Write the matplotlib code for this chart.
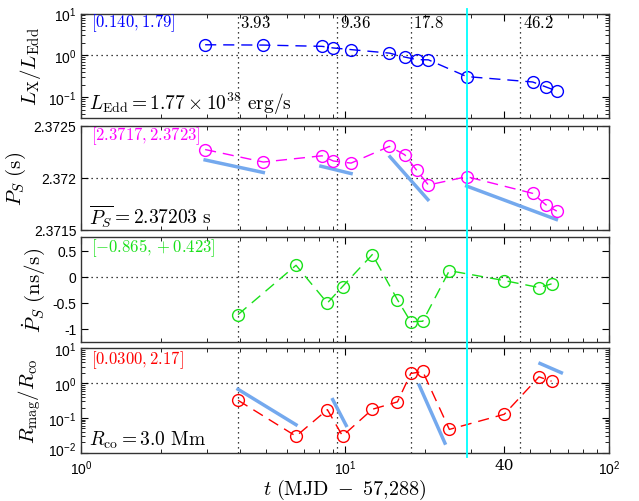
import numpy as np
import matplotlib
matplotlib.use("Agg")
import matplotlib.pyplot as plt
import matplotlib.transforms as mtransforms
from matplotlib.ticker import FixedLocator, NullFormatter, LogLocator

plt.rcParams["mathtext.fontset"] = "cm"
plt.rcParams["font.family"] = ["Liberation Sans", "DejaVu Sans"]
plt.rcParams["axes.unicode_minus"] = False

# temps des mesures de periode / luminosite
t_L = [2.95, 4.90, 8.18, 9.03, 10.54, 14.72, 16.83, 18.69, 20.69, 28.91, 51.4, 57.7, 63.4]
L_ratio = [1.79, 1.76, 1.64, 1.50, 1.37, 1.13, 0.91, 0.79, 0.78, 0.31, 0.23, 0.175, 0.140]
P_s = [2.37227, 2.37215, 2.37221, 2.37216, 2.37214, 2.37230, 2.37222,
       2.37207, 2.37193, 2.37201, 2.37185, 2.37174, 2.37168]

# temps des derivees
t_d = [3.93, 6.52, 8.57, 9.78, 12.69, 15.79, 17.74, 19.70, 24.84, 40.12, 54.3, 60.6]
Pdot = [-0.728, 0.217, -0.506, -0.19, 0.423, -0.443, -0.865, -0.855, 0.114, -0.076, -0.209, -0.139]
R_ratio = [0.323, 0.0300, 0.174, 0.0305, 0.178, 0.29, 1.90, 2.17, 0.047, 0.128, 1.52, 1.14]

# segments ajustes (bleu clair)
P_fit_t = [(2.95, 4.90), (8.1, 10.54), (14.8, 20.6), (28.9, 63.2)]
P_fit_v = [(2.37217, 2.37205), (2.37211, 2.37204), (2.37220, 2.37179), (2.37192, 2.37160)]
R_fit_t = [(3.93, 6.52), (8.98, 10.1), (19.1, 23.9), (54.8, 66.0)]
R_fit_v = [(0.67, 0.064), (0.338, 0.061), (0.875, 0.019), (3.69, 2.0)]

vlines = [3.93, 9.36, 17.8, 46.2]
vlabels = ["3.93", "9.36", "17.8", "46.2"]
t_cyan = 28.9

fit_color = "#74a9ee"
green = "#19e019"

fig = plt.figure(figsize=(6.39, 5.02), dpi=100)
left, width = 0.127, 0.826
bottoms = [0.763, 0.540, 0.317, 0.096]
height = 0.208
axes = [fig.add_axes([left, b, width, height]) for b in bottoms]

for ax in axes:
    ax.set_xscale("log")
    ax.set_xlim(1, 100)
    for v in vlines:
        ax.axvline(v, color="k", ls=(0, (1, 3)), lw=0.9)
    ax.axvline(t_cyan, color="cyan", lw=1.3, ymin=-0.04, ymax=1.04, clip_on=False, zorder=5)
    ax.xaxis.set_major_locator(FixedLocator([1, 10, 40, 100]))
    ax.xaxis.set_minor_locator(LogLocator(base=10, subs=np.arange(2, 10)))
    ax.xaxis.set_minor_formatter(NullFormatter())
    ax.tick_params(which="both", direction="in", top=True, right=True, labelsize=10)
    ax.tick_params(which="major", length=5)
    ax.tick_params(which="minor", length=3)
    for s in ax.spines.values():
        s.set_color("#333333")
        s.set_linewidth(1.0)

dash = (0, (8, 5))

# 1. luminosite
ax = axes[0]
ax.set_yscale("log")
ax.set_ylim(10 ** -1.5, 10)
ax.axhline(1, color="k", ls=(0, (1, 3)), lw=0.9)
ax.plot(t_L, L_ratio, color="b", ls=dash, lw=1, marker="o", mfc="none", ms=8.5, mew=1)
ax.set_yticks([0.1, 1, 10])
ax.set_yticklabels([r"$\mathregular{10^{-1}}$", r"$\mathregular{10^{0}}$", r"$\mathregular{10^{1}}$"])
ax.set_ylabel(r"$L_{\rm X}/L_{\rm Edd}$", fontsize=15)
ax.text(0.019, 0.92, r"$[0.140, 1.79]$", transform=ax.transAxes, color="b", fontsize=12, va="center")
ax.text(0.015, 0.14, r"$L_{\rm Edd}=1.77\times10^{38}\ \mathrm{erg/s}$", transform=ax.transAxes,
        fontsize=14, va="center")
for v, lab in zip(vlines, vlabels):
    ax.text(v * 1.02, 0.92, "$" + lab + "$", fontsize=12, va="center", ha="left",
            transform=ax.get_xaxis_transform())

# 2. periode
ax = axes[1]
ax.set_ylim(2.3715, 2.3725)
ax.axhline(2.372, color="k", ls=(0, (1, 3)), lw=0.9)
for (t0, t1), (v0, v1) in zip(P_fit_t, P_fit_v):
    ax.plot([t0, t1], [v0, v1], color=fit_color, lw=2.5)
ax.plot(t_L, P_s, color="magenta", ls=dash, lw=1, marker="o", mfc="none", ms=8.5, mew=1)
ax.set_yticks([2.3715, 2.372, 2.3725])
ax.set_yticklabels(["2.3715", "2.372", "2.3725"])
ax.set_ylabel(r"$P_S\ (\mathrm{s})$", fontsize=15)
ax.text(0.019, 0.91, r"$[2.3717, 2.3723]$", transform=ax.transAxes, color="magenta", fontsize=12, va="center")
ax.text(0.015, 0.14, r"$\overline{P_S}=2.37203\ \mathrm{s}$", transform=ax.transAxes, fontsize=14, va="center")

# 3. derivee de la periode
ax = axes[2]
ax.set_ylim(-1.25, 0.75)
ax.axhline(0, color="k", ls=(0, (1, 3)), lw=0.9)
ax.plot(t_d, Pdot, color=green, ls=dash, lw=1, marker="o", mfc="none", ms=8.5, mew=1)
ax.set_yticks([-1, -0.5, 0, 0.5])
ax.set_yticklabels(["-1", "-0.5", "0", "0.5"])
ax.set_ylabel(r"$\dot{P}_S\ (\mathrm{ns/s})$", fontsize=15)
ax.text(0.019, 0.91, r"$[-0.865, +0.423]$", transform=ax.transAxes, color=green, fontsize=12, va="center")

# 4. rayon magnetospherique
ax = axes[3]
ax.set_yscale("log")
ax.set_ylim(0.01, 10)
ax.axhline(1, color="k", ls=(0, (1, 3)), lw=0.9)
for (t0, t1), (v0, v1) in zip(R_fit_t, R_fit_v):
    ax.plot([t0, t1], [v0, v1], color=fit_color, lw=2.5)
ax.plot(t_d, R_ratio, color="red", ls=dash, lw=1, marker="o", mfc="none", ms=8.5, mew=1)
ax.set_yticks([0.01, 0.1, 1, 10])
ax.set_yticklabels([r"$\mathregular{10^{-2}}$", r"$\mathregular{10^{-1}}$",
                    r"$\mathregular{10^{0}}$", r"$\mathregular{10^{1}}$"])
# petit decalage du 10^-2 pour ne pas chevaucher le 10^0 de l'axe x
lab0 = ax.get_yticklabels()[0]
lab0.set_transform(lab0.get_transform() + mtransforms.ScaledTranslation(0, 3 / 72, fig.dpi_scale_trans))
ax.set_ylabel(r"$R_{\rm mag}/R_{\rm co}$", fontsize=15)
ax.text(0.019, 0.90, r"$[0.0300, 2.17]$", transform=ax.transAxes, color="red", fontsize=12, va="center")
ax.text(0.015, 0.13, r"$R_{\rm co}=3.0\ \mathrm{Mm}$", transform=ax.transAxes, fontsize=14, va="center")
ax.set_xticklabels([r"$\mathregular{10^{0}}$", r"$\mathregular{10^{1}}$", "40", r"$\mathregular{10^{2}}$"])
for lbl in ax.get_xticklabels():
    if lbl.get_text() == "40":
        lbl.set_fontfamily("DejaVu Serif")
        lbl.set_fontsize(11)
ax.tick_params(axis="x", pad=4)
ax.set_xlabel(r"$t\ (\mathrm{MJD}\ -\ 57{,}288)$", fontsize=14.5, labelpad=0)

for ax in axes[:3]:
    ax.set_xticklabels([])

fig.align_ylabels(axes)
fig.savefig("out.png", dpi=100)
